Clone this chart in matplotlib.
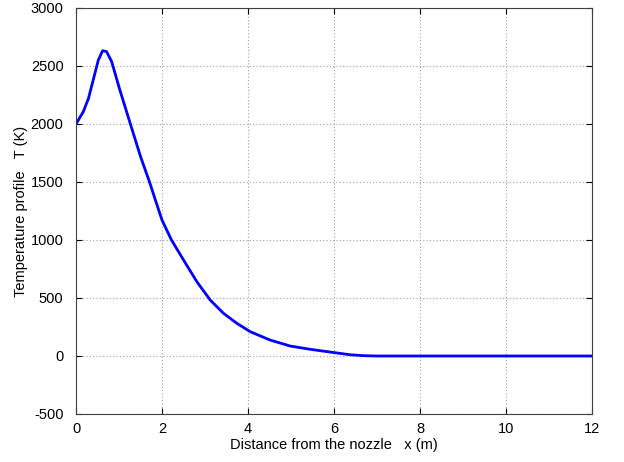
import matplotlib
matplotlib.use("Agg")
import matplotlib.pyplot as plt

x_vals = [0.0, 0.17, 0.29, 0.40, 0.52, 0.62, 0.71, 0.83, 1.02, 1.26, 1.50, 1.71, 1.85, 2.0, 2.22,
          2.50, 2.81, 3.12, 3.43, 3.74, 4.05, 4.51, 4.98, 5.44, 5.91, 6.37, 6.68, 7.0, 8.0, 10.0, 12.0]
temp_vals = [2000, 2106, 2221, 2379, 2552, 2632, 2624, 2537, 2293, 2006, 1720, 1500, 1340, 1172, 1000,
             828, 641, 483, 368, 282, 210, 138, 86, 58, 34, 11, 3, 0, 0, 0, 0]
x_ticks = [0, 2, 4, 6, 8, 10, 12]
y_ticks = [-500, 0, 500, 1000, 1500, 2000, 2500, 3000]

plt.rcParams['font.family'] = ['Liberation Sans', 'DejaVu Sans']
plt.rcParams['axes.unicode_minus'] = False
fig = plt.figure(figsize=(6.24, 4.62), dpi=100)
ax = fig.add_axes([0.1218, 0.1039, 0.8269, 0.8788])
ax.plot(x_vals, temp_vals, color='#0000ff', linewidth=2, solid_joinstyle='round')
ax.set_xlim(0, 12)
ax.set_ylim(-500, 3000)
ax.set_xticks(x_ticks)
ax.set_yticks(y_ticks)
ax.grid(True, linestyle=(0, (1, 2)), color='#a0a0a0', linewidth=0.8)
ax.tick_params(direction='in', top=True, right=True, labelsize=10.5, length=4, colors='black')
ax.tick_params(axis='y', pad=9)
ax.tick_params(axis='x', pad=6)
for s in ax.spines.values():
    s.set_color('#404040')
    s.set_linewidth(0.8)
ax.set_xlabel('Distance from the nozzle   x (m)', fontsize=10.5, labelpad=1)
ax.set_ylabel('Temperature profile   T (K)', fontsize=10.5, labelpad=2)
fig.savefig('out.png', dpi=100)
